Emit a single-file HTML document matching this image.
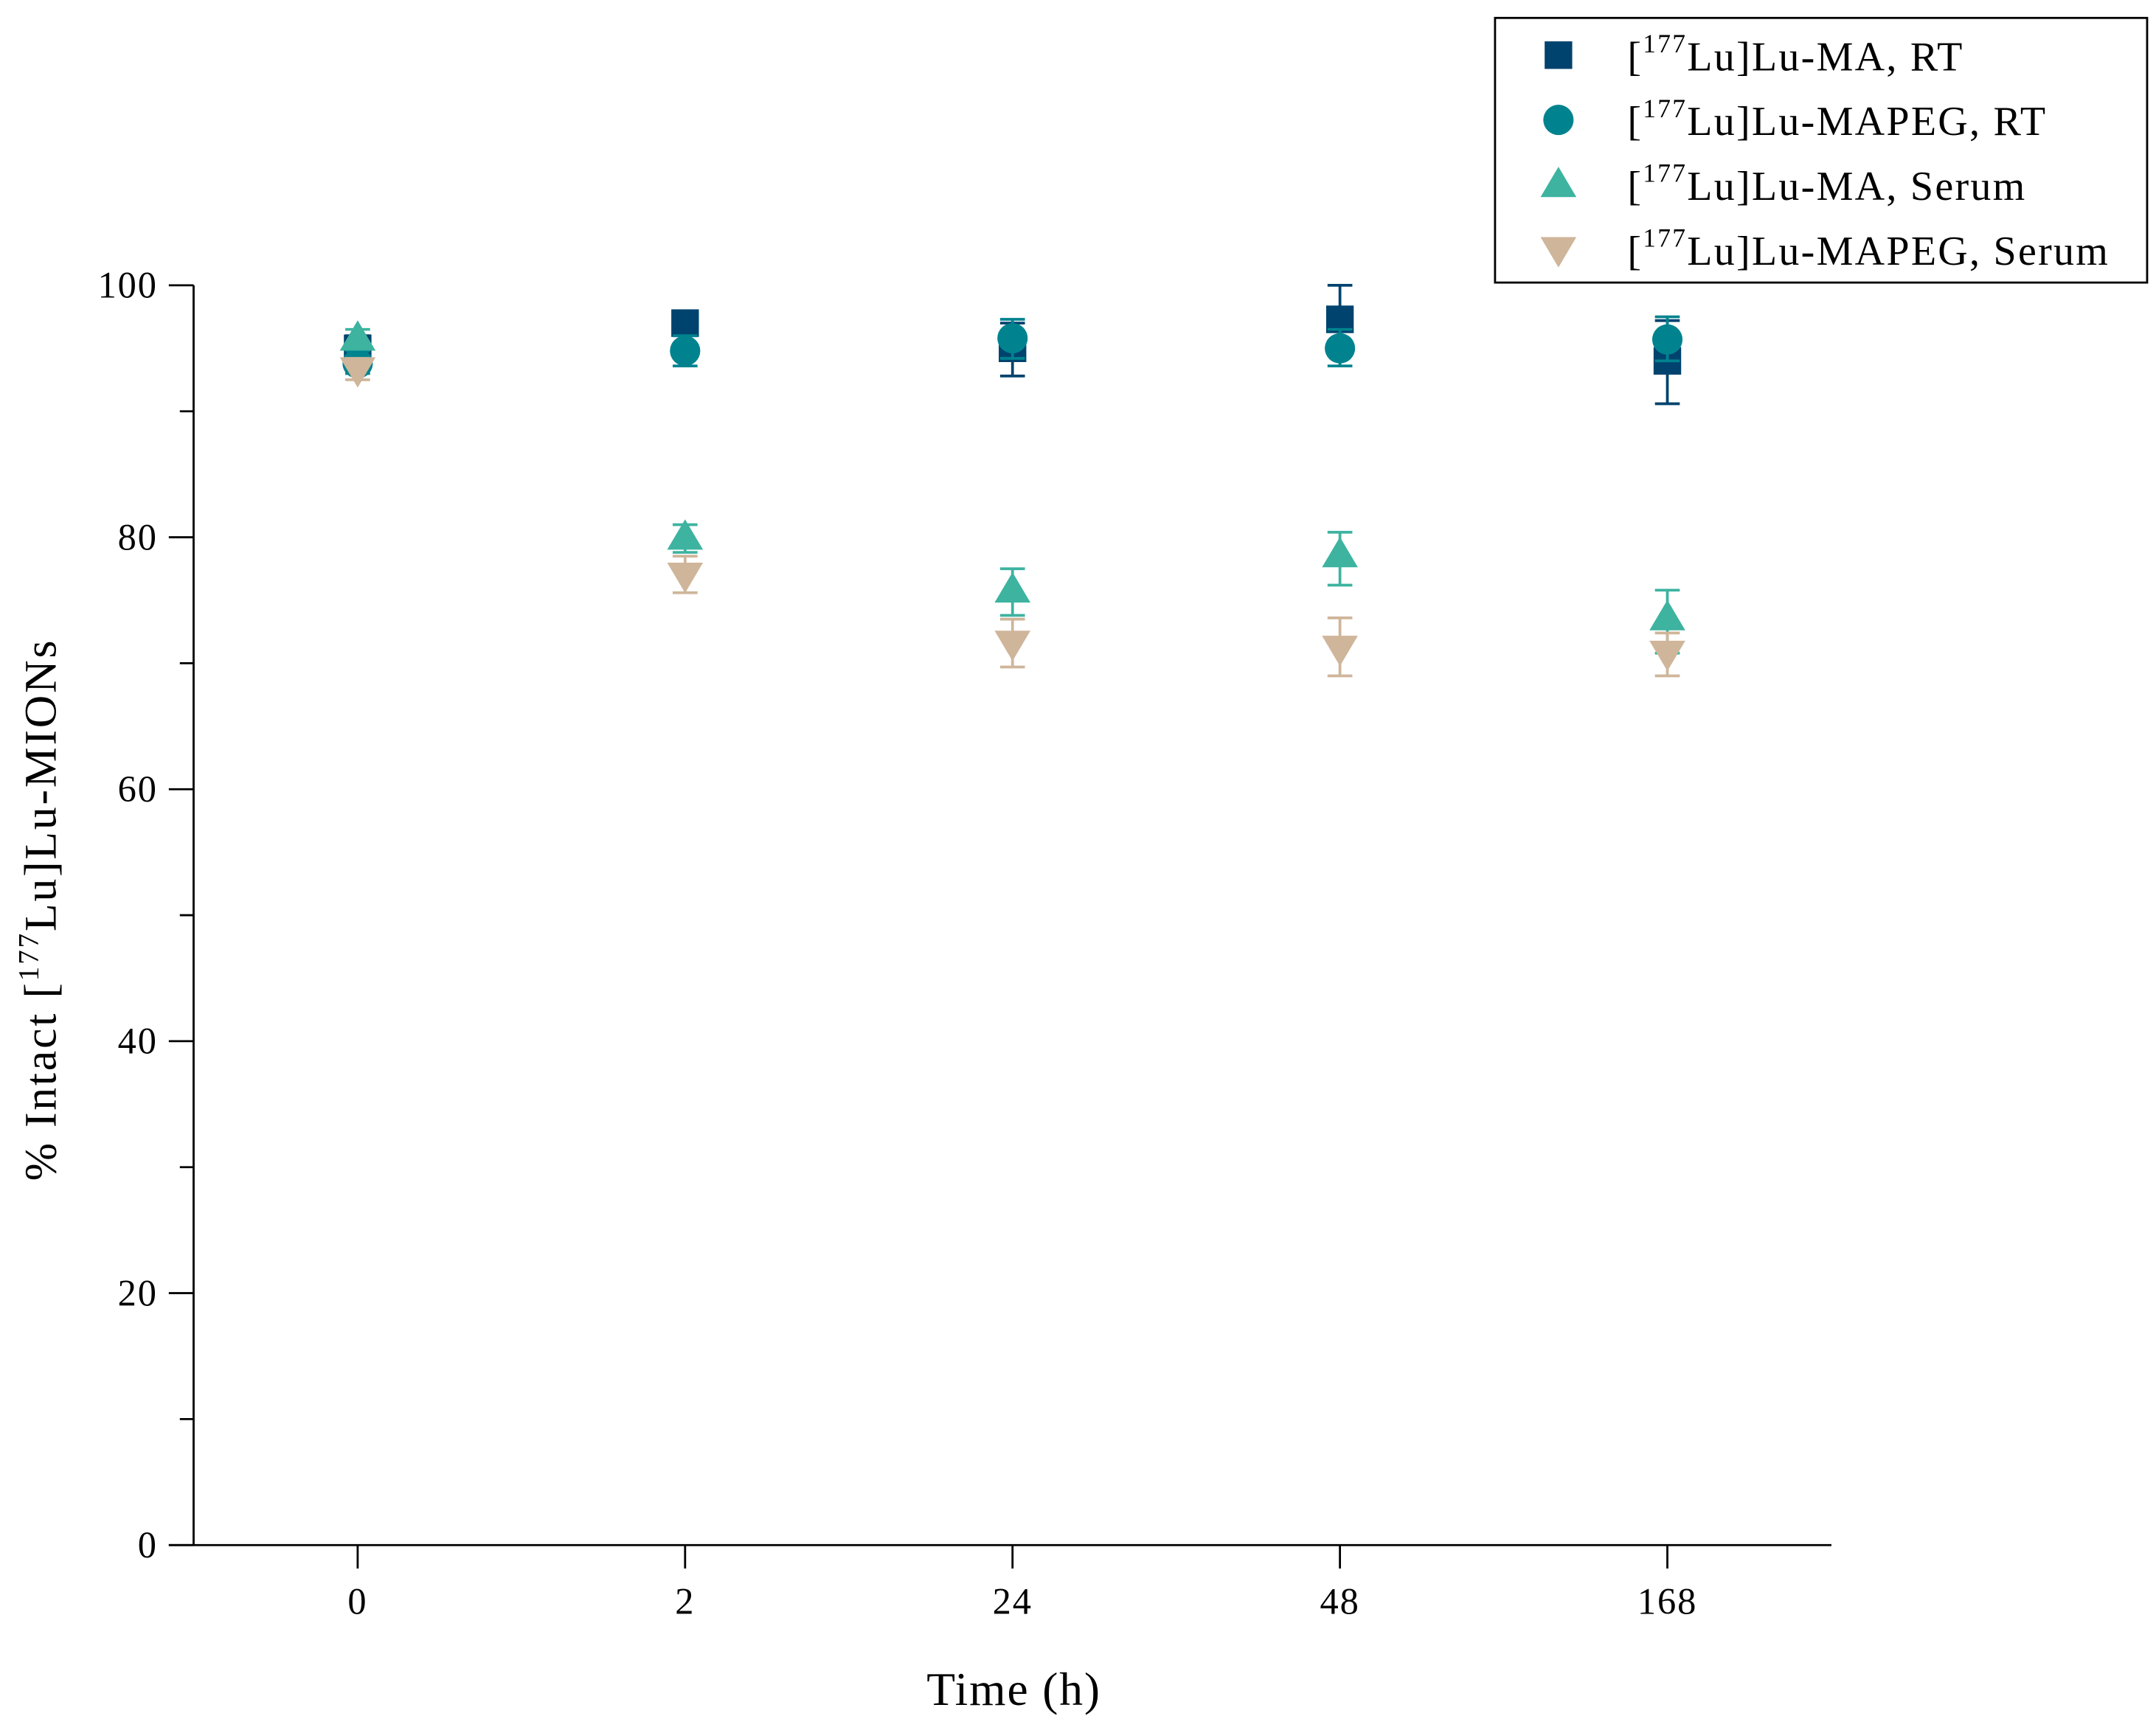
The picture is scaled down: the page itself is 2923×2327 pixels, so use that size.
<!DOCTYPE html>
<html><head><meta charset="utf-8"><style>
html,body{margin:0;padding:0;background:#fff;}
svg{display:block;}
text{font-family:"Liberation Serif",serif;fill:#000;}
</style></head><body>
<svg id="chart" width="2923" height="2327" viewBox="0 0 1563 1245" xmlns="http://www.w3.org/2000/svg">
<g id="axes"></g>
<g id="marks"></g>
<g id="legend"></g>
</svg>
<script>
const categories = ["0","2","24","48","168"];
const yTicks = [0,20,40,60,80,100];
const yMinorTicks = [10,30,50,70,90];
const maRT = [95.0,97.0,95.0,97.3,94.0];
const maRTLo = [94.0,96.0,92.8,94.5,90.6];
const maRTHi = [96.0,97.5,97.0,100.0,97.2];
const mapegRT = [93.8,94.8,95.8,95.0,95.7];
const mapegRTLo = [93.0,93.6,94.2,93.6,94.0];
const mapegRTHi = [94.8,96.0,97.3,96.5,97.5];
const maSerum = [95.8,80.0,75.8,78.6,73.6];
const maSerumLo = [95.0,78.8,73.8,76.2,70.8];
const maSerumHi = [96.5,81.0,77.5,80.4,75.8];
const mapegSerum = [93.3,77.0,71.6,71.2,70.8];
const mapegSerumLo = [92.5,75.6,69.7,69.0,69.0];
const mapegSerumHi = [94.2,78.5,73.5,73.6,72.4];

const NS="http://www.w3.org/2000/svg";
const X0=140, X1=1328, Y0=1121, Y1=207;
function xs(i){return 259+i*237.5;}
function ys(v){return Y0-(v/100)*(Y0-Y1);}
function mk(tag,attrs,parent){const e=document.createElementNS(NS,tag);for(const k in attrs)e.setAttribute(k,attrs[k]);parent.appendChild(e);return e;}
const axes=document.getElementById('axes'), marks=document.getElementById('marks'), legend=document.getElementById('legend');

let l=mk('line',{x1:X0,y1:Y1,x2:X0,y2:Y0,stroke:'#000','stroke-width':1.5},axes);


l=mk('line',{x1:122,y1:Y0,x2:X1,y2:Y0,stroke:'#000','stroke-width':1.5},axes);


yTicks.forEach(v=>{
  const t=mk('line',{x1:122,y1:ys(v),x2:X0,y2:ys(v),stroke:'#000','stroke-width':1.5},axes);
  
  
  const tx=mk('text',{x:114,y:ys(v)+9,'text-anchor':'end','font-size':27,'letter-spacing':1},axes);
  tx.textContent=v;
  
  
});
yMinorTicks.forEach(v=>{
  const t=mk('line',{x1:130,y1:ys(v),x2:X0,y2:ys(v),stroke:'#000','stroke-width':1.5},axes);
  
  
});
categories.forEach((c,i)=>{
  const t=mk('line',{x1:xs(i),y1:Y0,x2:xs(i),y2:Y0+17,stroke:'#000','stroke-width':1.5},axes);
  
  
  const tx=mk('text',{x:xs(i),y:1171,'text-anchor':'middle','font-size':27,'letter-spacing':1},axes);
  tx.textContent=c;
  
  
});
let xt=mk('text',{x:735,y:1237,'text-anchor':'middle','font-size':34,'letter-spacing':1},axes);
xt.textContent='Time (h)';


let yt=mk('text',{x:0,y:0,'text-anchor':'middle','font-size':33,'letter-spacing':1.5,transform:'translate(40,660) rotate(-90)'},axes);
yt.innerHTML='% Intact [<tspan font-size="21" dy="-13">177</tspan><tspan dy="13">Lu]Lu-MIONs</tspan>';



function marker(shape,cx,cy,color,parent){
  let e;
  if(shape==='square') e=mk('rect',{x:cx-10,y:cy-10,width:20,height:20,fill:color},parent);
  else if(shape==='circle') e=mk('circle',{cx:cx,cy:cy,r:11,fill:color},parent);
  else if(shape==='up') e=mk('polygon',{points:`${cx},${cy-13} ${cx-13},${cy+9} ${cx+13},${cy+9}`,fill:color},parent);
  else e=mk('polygon',{points:`${cx},${cy+13} ${cx-13},${cy-9} ${cx+13},${cy-9}`,fill:color},parent);
  return e;
}
const series=[
  {name:'ma-rt',vals:maRT,lo:maRTLo,hi:maRTHi,color:'#00436e',shape:'square'},
  {name:'mapeg-rt',vals:mapegRT,lo:mapegRTLo,hi:mapegRTHi,color:'#00838f',shape:'circle'},
  {name:'ma-serum',vals:maSerum,lo:maSerumLo,hi:maSerumHi,color:'#3db3a0',shape:'up'},
  {name:'mapeg-serum',vals:mapegSerum,lo:mapegSerumLo,hi:mapegSerumHi,color:'#cfb59a',shape:'down'}
];
series.forEach(s=>{
  s.vals.forEach((v,i)=>{
    const cx=xs(i);
    const eb=mk('g',{stroke:s.color,'stroke-width':2},marks);
    
    
    mk('line',{x1:cx,y1:ys(s.lo[i]),x2:cx,y2:ys(s.hi[i])},eb);
    mk('line',{x1:cx-9,y1:ys(s.lo[i]),x2:cx+9,y2:ys(s.lo[i])},eb);
    mk('line',{x1:cx-9,y1:ys(s.hi[i]),x2:cx+9,y2:ys(s.hi[i])},eb);
    const m=marker(s.shape,cx,ys(v),s.color,marks);
    
    
  });
});
const lb=mk('rect',{x:1084,y:13,width:473,height:192,fill:'#fff',stroke:'#000','stroke-width':1.5},legend);


const labels=['Lu-MA, RT','Lu-MAPEG, RT','Lu-MA, Serum','Lu-MAPEG, Serum'];
series.forEach((s,i)=>{
  const cy=40+i*47;
  const m=marker(s.shape,1130,cy,s.color,legend);
  
  
  const t=mk('text',{x:1180,y:cy+11,'font-size':30,'letter-spacing':1.2},legend);
  t.innerHTML='[<tspan font-size="19" dy="-13">177</tspan><tspan dy="13">Lu]'+labels[i]+'</tspan>';
  
  
});
</script>
</body></html>
